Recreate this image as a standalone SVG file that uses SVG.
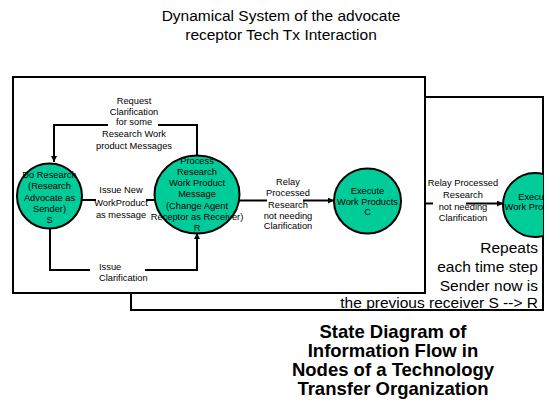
<svg xmlns="http://www.w3.org/2000/svg" width="550" height="413" viewBox="0 0 550 413">
<style>
text{font-family:"Liberation Sans",Arial,sans-serif;fill:#000}
.s{font-size:9.3px;text-anchor:middle}
.l{font-size:9.3px}
.big{font-size:15.5px;text-anchor:end}
.ttl{font-size:15.5px;text-anchor:middle}
.cap{font-size:18.5px;font-weight:bold;text-anchor:middle}
.box{fill:#fff;stroke:#000;stroke-width:2}
.node{fill:#00CC99;stroke:#000;stroke-width:2}
.ln{fill:none;stroke:#000;stroke-width:2}
</style>
<defs>
<marker id="ah" viewBox="0 0 10 10" refX="10" refY="5" markerWidth="6" markerHeight="6" markerUnits="userSpaceOnUse" orient="auto">
<path d="M0,0 L10,5 L0,10 Z" fill="#000"/>
</marker>
<clipPath id="bclip"><rect x="0" y="0" width="543" height="413"/></clipPath>
</defs>
<text class="ttl" x="281" y="21">Dynamical System of the advocate</text>
<text class="ttl" x="281" y="40">receptor Tech Tx Interaction</text>
<g id="back-frame">
<rect class="box" x="131" y="97" width="412" height="213"/>
</g>
<g id="front-frame">
<rect class="box" x="13" y="77" width="412" height="216"/>
</g>
<g id="connectors">
<polyline class="ln" points="197,167 197,125 158,125"/>
<polyline class="ln" points="108,125 54,125 54,162" marker-end="url(#ah)"/>
<line class="ln" x1="82" y1="200" x2="96" y2="200"/>
<line class="ln" x1="146" y1="200" x2="163" y2="200" marker-end="url(#ah)"/>
<polyline class="ln" points="50,229 50,270 90,270"/>
<polyline class="ln" points="145,270 197,270 197,233" marker-end="url(#ah)"/>
<line class="ln" x1="239" y1="200.5" x2="267" y2="200.5"/>
<line class="ln" x1="303" y1="200.5" x2="334" y2="200.5" marker-end="url(#ah)"/>
<line class="ln" x1="426" y1="203.5" x2="433" y2="203.5"/>
<line class="ln" x1="466" y1="203.5" x2="503" y2="203.5" marker-end="url(#ah)"/>
</g>
<g id="node-S">
<circle class="node" cx="49.5" cy="196" r="32.5"/>
<text class="s" x="49.5" y="177.5">Do Research</text>
<text class="s" x="49.5" y="189">(Research</text>
<text class="s" x="49.5" y="200.5">Advocate as</text>
<text class="s" x="49.5" y="212">Sender)</text>
<text class="s" x="49.5" y="223">S</text>
</g>
<g id="node-R">
<ellipse class="node" cx="197" cy="194.5" rx="42.5" ry="39"/>
<text class="s" x="197" y="163.5">Process</text>
<text class="s" x="197" y="175">Research</text>
<text class="s" x="197" y="186">Work Product</text>
<text class="s" x="197" y="197">Message</text>
<text class="s" x="197" y="208.5">(Change Agent</text>
<text class="s" x="197" y="219.5">Receptor as Receiver)</text>
<text class="s" x="197" y="231">R</text>
</g>
<g id="node-C">
<ellipse class="node" cx="367.5" cy="201" rx="33.5" ry="32.5"/>
<text class="s" x="367.5" y="193.5">Execute</text>
<text class="s" x="367.5" y="205">Work Products</text>
<text class="s" x="367.5" y="215">C</text>
</g>
<g id="node-C2" clip-path="url(#bclip)">
<circle class="node" cx="535" cy="205" r="32"/>
<text class="s" x="535" y="199.5">Execute</text>
<text class="s" x="535" y="209.5">Work Products</text>
</g>
<g id="labels">
<text class="s" x="134" y="103.5">Request</text>
<text class="s" x="134" y="115">Clarification</text>
<text class="s" x="134" y="125">for some</text>
<text class="s" x="134" y="137">Research Work</text>
<text class="s" x="134" y="149">product Messages</text>
<text class="s" x="121" y="193">Issue New</text>
<text class="s" x="121" y="205.5">WorkProduct</text>
<text class="s" x="121" y="217.5">as message</text>
<text class="l" x="99" y="269.5">Issue</text>
<text class="l" x="99" y="281">Clarification</text>
<text class="s" x="288" y="185">Relay</text>
<text class="s" x="288" y="196">Processed</text>
<text class="s" x="288" y="207.5">Research</text>
<text class="s" x="288" y="219">not needing</text>
<text class="s" x="288" y="229">Clarification</text>
<text class="s" x="463" y="186">Relay Processed</text>
<text class="s" x="463" y="197.5">Research</text>
<text class="s" x="463" y="209.5">not needing</text>
<text class="s" x="463" y="221">Clarification</text>
<text class="big" x="538" y="253">Repeats</text>
<text class="big" x="538" y="272">each time step</text>
<text class="big" x="538" y="291">Sender now is</text>
<text class="big" x="538" y="308">the previous receiver S --&gt; R</text>
</g>
<text class="cap" x="393" y="338">State Diagram of</text>
<text class="cap" x="393" y="357">Information Flow in</text>
<text class="cap" x="393" y="376">Nodes of a Technology</text>
<text class="cap" x="393" y="395">Transfer Organization</text>
</svg>
